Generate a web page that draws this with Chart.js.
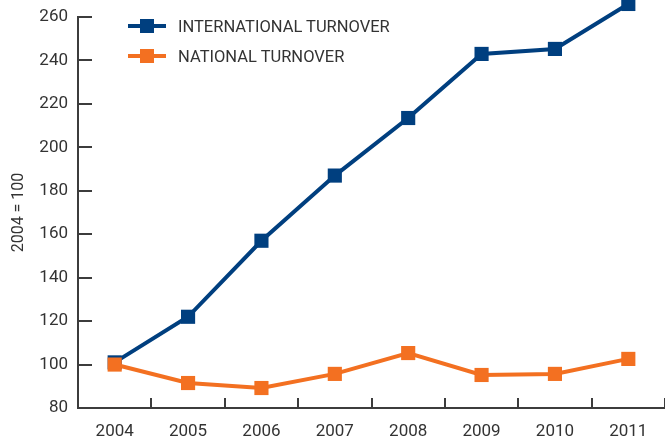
<!DOCTYPE html>
<html>
<head>
<meta charset="utf-8">
<script src="https://cdn.jsdelivr.net/npm/chart.js@4"></script>
<style>
  html, body { margin: 0; padding: 0; background: #fff; }
  #wrap { position: relative; width: 665px; height: 439px; }
  #legend { position: absolute; left: 128px; top: 11px; font-family: 'Liberation Sans Narrow', 'Roboto', sans-serif; font-size: 16.5px; color: #333; }
  .item { display: flex; align-items: center; height: 30px; }
  .mark { position: relative; width: 38px; height: 14px; margin-right: 12px; }
  .mark .ln { position: absolute; left: 0; right: 0; top: 5px; height: 4px; }
  .mark .sq { position: absolute; left: 12px; top: 0; width: 14px; height: 14px; }
</style>
</head>
<body>
<div id="wrap">
  <canvas id="canvas" width="665" height="439"></canvas>
  <div id="legend"></div>
</div>
<script>
const years = ['2004', '2005', '2006', '2007', '2008', '2009', '2010', '2011'];
const international = [101, 122, 157, 187, 213.5, 243, 245.3, 266];
const national = [100, 91.5, 89.2, 95.7, 105.3, 95.2, 95.7, 102.6];
const seriesNames = ['INTERNATIONAL TURNOVER', 'NATIONAL TURNOVER'];
const colors = ['#003f7f', '#f37021'];

const font = "'Liberation Sans Narrow', 'Roboto', sans-serif";
const axisColor = '#3c3c3c';

// legend as html, line + square marker
const legend = document.getElementById('legend');
seriesNames.forEach((name, i) => {
  legend.innerHTML += '<div class="item"><span class="mark"><span class="ln" style="background:' + colors[i] +
    '"></span><span class="sq" style="background:' + colors[i] + '"></span></span>' + name + '</div>';
});

function makeSet(label, values, color, order) {
  return {
    label: label,
    data: values,
    borderColor: color,
    backgroundColor: color,
    borderWidth: 4,
    pointStyle: 'rect',
    pointRadius: 10,
    pointBorderWidth: 0,
    tension: 0,
    clip: false,
    order: order
  };
}

// the 2011 point sits above the 260 line, let it be drawn outside the area
const overflowPlugin = {
  id: 'overflow',
  beforeDatasetsDraw(chart) { chart.chartArea.top -= 30; },
  afterDatasetsDraw(chart) { chart.chartArea.top += 30; }
};

new Chart(document.getElementById('canvas'), {
  type: 'line',
  data: {
    labels: years,
    datasets: [
      makeSet(seriesNames[0], international, colors[0], 2),
      makeSet(seriesNames[1], national, colors[1], 1)
    ]
  },
  plugins: [overflowPlugin],
  options: {
    responsive: false,
    animation: false,
    layout: { autoPadding: false, padding: { top: 17, right: 0, left: 0, bottom: 0 } },
    plugins: { legend: { display: false }, tooltip: { enabled: false } },
    scales: {
      x: {
        offset: true,
        afterFit: (scale) => { scale.height = 31; scale.paddingLeft = 0; scale.paddingRight = 0; },
        grid: { offset: true, drawOnChartArea: false, tickLength: -10, color: axisColor, lineWidth: 2 },
        border: { color: axisColor, width: 2 },
        ticks: { padding: 24, color: '#333', font: { family: font, size: 17 } }
      },
      y: {
        min: 80,
        max: 260,
        afterFit: (scale) => { scale.width = 78; scale.paddingTop = 0; scale.paddingBottom = 0; },
        grid: { drawOnChartArea: false, tickLength: -14, color: axisColor, lineWidth: 2 },
        border: { color: axisColor, width: 2 },
        ticks: { stepSize: 20, padding: 24, color: '#333', font: { family: font, size: 17 } },
        title: { display: true, text: '2004 = 100', color: '#333', font: { family: font, size: 16 }, padding: { top: 9, bottom: 0 } }
      }
    }
  }
});
</script>
</body>
</html>
